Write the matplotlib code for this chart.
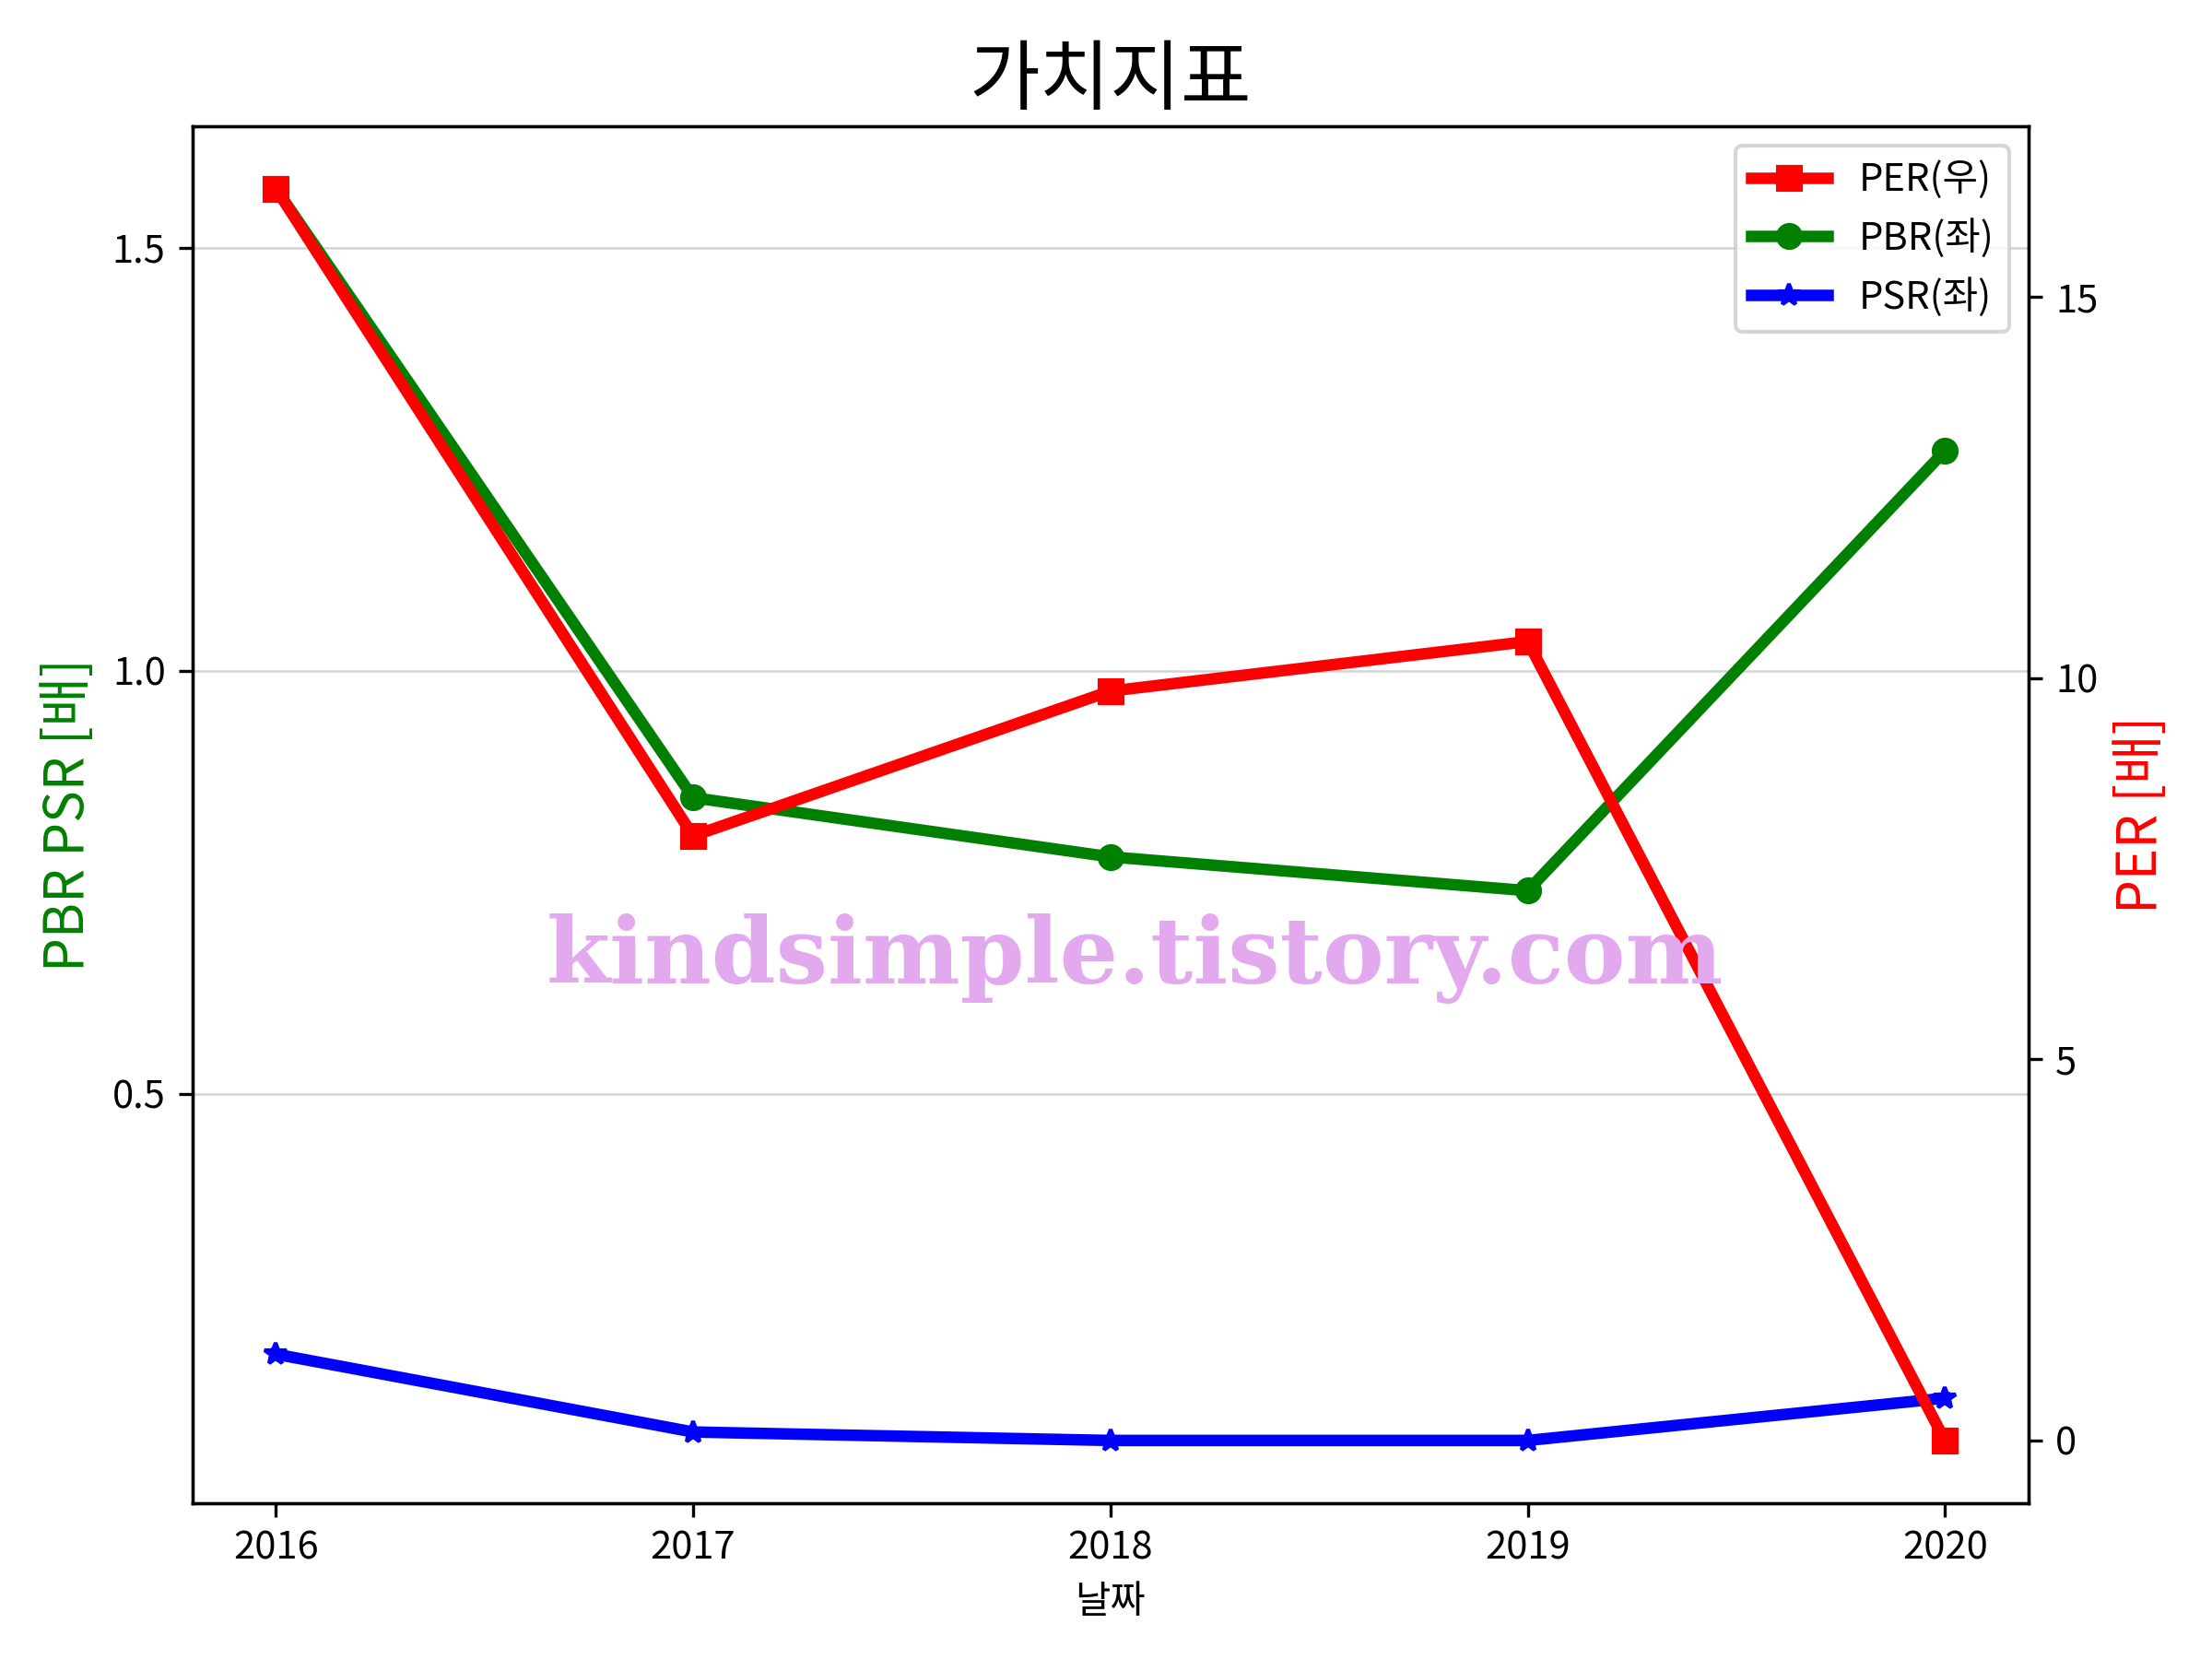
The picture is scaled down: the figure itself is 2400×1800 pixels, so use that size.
import matplotlib.pyplot as plt
from matplotlib.ticker import MultipleLocator

plt.rcParams['font.family'] = ['Noto Sans CJK KR', 'DejaVu Sans']
plt.rcParams['axes.unicode_minus'] = False

years = ['2016', '2017', '2018', '2019', '2020']
per = [16.42, 7.93, 9.83, 10.48, 0.0]
pbr = [1.57, 0.85, 0.78, 0.74, 1.26]
psr = [0.192, 0.10, 0.09, 0.09, 0.14]

fig, ax1 = plt.subplots(figsize=(8, 6), dpi=300)
ax2 = ax1.twinx()

l2, = ax1.plot(years, pbr, color='green', marker='o', linewidth=3, label='PBR(좌)')
l3, = ax1.plot(years, psr, color='blue', marker='*', linewidth=3, label='PSR(좌)')
l1, = ax2.plot(years, per, color='red', marker='s', linewidth=3, label='PER(우)')

ax1.set_yticks([0.5, 1.0, 1.5])
ax2.yaxis.set_major_locator(MultipleLocator(5))
ax1.grid(axis='y', color='lightgray', linewidth=0.6)
ax1.set_xlabel('날짜')
ax1.set_ylabel('PBR PSR [배]', color='green', fontsize=14)
ax2.set_ylabel('PER [배]', color='red', fontsize=14)
ax1.set_title('가치지표', fontsize=20)

ax2.legend(handles=[l1, l2, l3], loc='upper right')

# watermark
fig.text(0.513, 0.422, 'kindsimple.tistory.com', color='#E3A9EF',
         fontsize=24, fontweight='bold', family='DejaVu Serif',
         ha='center', va='center', zorder=10)

fig.subplots_adjust(left=0.087, right=0.917, top=0.924, bottom=0.094)
fig.savefig('out.png')
